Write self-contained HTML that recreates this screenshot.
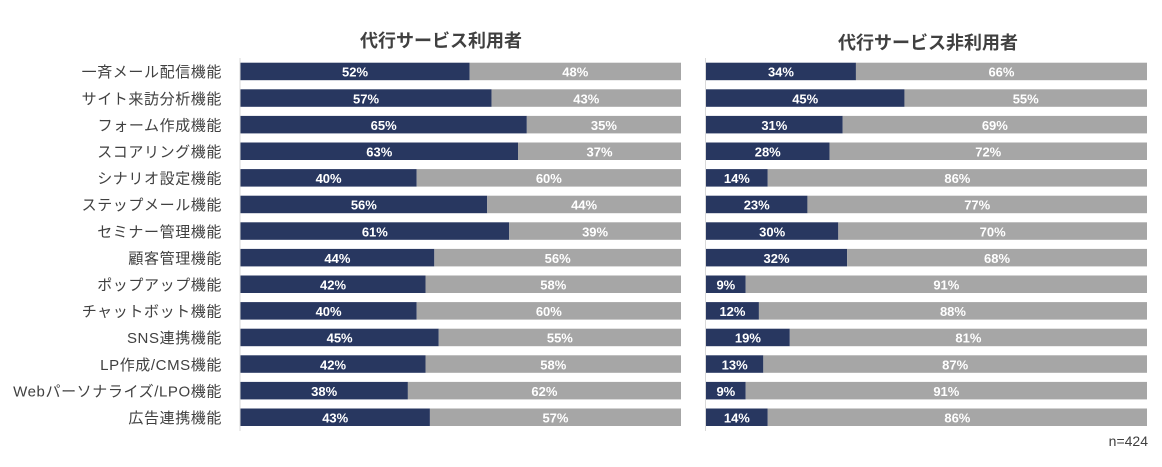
<!DOCTYPE html>
<html><head><meta charset="utf-8"><style>
body{margin:0;background:#fff;}
svg text{font-family:"Liberation Sans","Noto Sans CJK JP",sans-serif;}
</style></head><body>
<svg id="c" width="1162" height="462" xmlns="http://www.w3.org/2000/svg">
<text x="441" y="47" text-anchor="middle" font-size="18" font-weight="bold" fill="#404040">代行サービス利用者</text>
<text x="928" y="49" text-anchor="middle" font-size="18" font-weight="bold" fill="#404040">代行サービス非利用者</text>
<text x="1148" y="446" text-anchor="end" font-size="14" fill="#404040">n=424</text>
<line x1="240" y1="58" x2="240" y2="431" stroke="#d9d9d9"/>
<line x1="705.5" y1="58" x2="705.5" y2="431" stroke="#d9d9d9"/>
<g id="g"></g>
</svg>
<script>
const categories=["一斉メール配信機能","サイト来訪分析機能","フォーム作成機能","スコアリング機能","シナリオ設定機能","ステップメール機能","セミナー管理機能","顧客管理機能","ポップアップ機能","チャットボット機能","SNS連携機能","LP作成/CMS機能","Webパーソナライズ/LPO機能","広告連携機能"];
const usersYes=[52,57,65,63,40,56,61,44,42,40,45,42,38,43];
const nonUsersYes=[34,45,31,28,14,23,30,32,9,12,19,13,9,14];
const NS="http://www.w3.org/2000/svg";
const g=document.getElementById('g');
const y=i=>62.7+i*26.6, bh=17.5;
function mk(t,a){const e=document.createElementNS(NS,t);for(const k in a)e.setAttribute(k,a[k]);g.appendChild(e);return e;}
function panel(x0,w,vals,side){
  vals.forEach((v,i)=>{
    const xv=x0+w*v/100;
    let r=mk('rect',{x:x0,y:y(i),width:xv-x0,height:bh,fill:'#283760'});
    
    
    r=mk('rect',{x:xv,y:y(i),width:x0+w-xv,height:bh,fill:'#a6a6a6'});
    
    
    let t=mk('text',{x:(x0+xv)/2,y:y(i)+14,'text-anchor':'middle','font-size':13,'font-weight':'bold',fill:'#fff'});
    t.textContent=v+'%';
    
    
    t=mk('text',{x:(xv+x0+w)/2,y:y(i)+14,'text-anchor':'middle','font-size':13,'font-weight':'bold',fill:'#fff'});
    t.textContent=(100-v)+'%';
    
    
  });
}
categories.forEach((c,i)=>{
  const t=mk('text',{x:222,y:y(i)+14.5,'text-anchor':'end','font-size':15,'letter-spacing':'0.6',fill:'#404040'});
  t.textContent=c;
  
  
});
panel(240.5,440.5,usersYes,'left');
panel(706,441,nonUsersYes,'right');
</script>
</body></html>
